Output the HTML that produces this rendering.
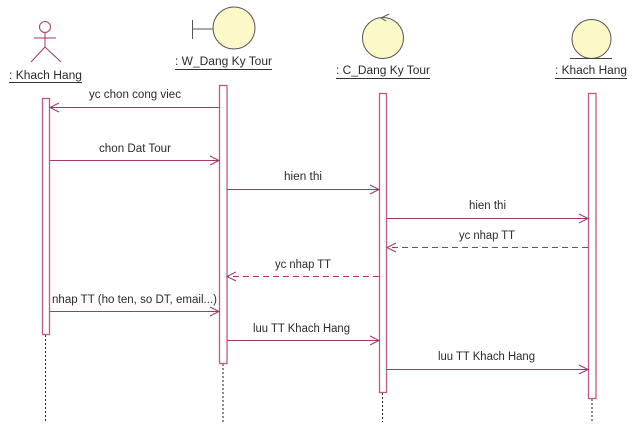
<!DOCTYPE html>
<html><head><meta charset="utf-8"><style>
html,body{margin:0;padding:0;background:#fff;}
svg{display:block;}
text{font-family:"Liberation Sans",Arial,sans-serif;font-size:11.5px;fill:#2a2a2a;}
</style></head><body>
<svg width="637" height="439" viewBox="0 0 637 439" xmlns="http://www.w3.org/2000/svg">
<rect width="637" height="439" fill="#fff"/>
<!-- Actor -->
<g stroke="#a4386a" stroke-width="1" fill="none">
<circle cx="45" cy="27" r="5.5"/>
<line x1="45" y1="32.5" x2="45" y2="47"/>
<line x1="34" y1="38" x2="56" y2="38"/>
<line x1="45" y1="47" x2="31" y2="62"/>
<line x1="45" y1="47" x2="61" y2="62"/>
</g>
<text x="9" y="79" textLength="73" lengthAdjust="spacingAndGlyphs" xml:space="preserve">: Khach Hang</text>
<line x1="9" y1="82.5" x2="82" y2="82.5" stroke="#333" stroke-width="1"/>
<!-- Boundary -->
<g stroke="#555" stroke-width="1">
<line x1="192.5" y1="20" x2="192.5" y2="39"/>
<line x1="192.5" y1="29" x2="213" y2="29"/>
<circle cx="234" cy="28" r="21" fill="#fcf9c8"/>
</g>
<text x="175" y="65" textLength="97" lengthAdjust="spacingAndGlyphs" xml:space="preserve">: W_Dang Ky Tour</text>
<line x1="175" y1="69.5" x2="272" y2="69.5" stroke="#333" stroke-width="1"/>
<!-- Control -->
<circle cx="383" cy="38" r="20.5" fill="#fcf9c8" stroke="#555" stroke-width="1"/>
<g stroke="#555" stroke-width="1" fill="none">
<line x1="381" y1="18" x2="389" y2="14"/>
<line x1="381" y1="18" x2="386" y2="21"/>
</g>
<text x="336" y="74" textLength="94" lengthAdjust="spacingAndGlyphs" xml:space="preserve">: C_Dang Ky Tour</text>
<line x1="336" y1="78.5" x2="430" y2="78.5" stroke="#333" stroke-width="1"/>
<!-- Entity -->
<circle cx="591.5" cy="39" r="19.5" fill="#fcf9c8" stroke="#555" stroke-width="1"/>
<line x1="570" y1="58.5" x2="612" y2="58.5" stroke="#444" stroke-width="1"/>
<text x="555" y="74" textLength="72" lengthAdjust="spacingAndGlyphs" xml:space="preserve">: Khach Hang</text>
<line x1="555" y1="78.5" x2="627" y2="78.5" stroke="#333" stroke-width="1"/>

<!-- Lifelines -->
<g stroke="#222" stroke-width="1" stroke-dasharray="2,2">
<line x1="45.5" y1="335" x2="45.5" y2="422"/>
<line x1="223" y1="364" x2="223" y2="423"/>
<line x1="382.5" y1="393" x2="382.5" y2="422"/>
<line x1="592" y1="399" x2="592" y2="422"/>
</g>
<!-- Activations -->
<g stroke="#bf5a86" stroke-width="1.3" fill="#fff">
<rect x="42.5" y="98.5" width="7" height="236"/>
<rect x="219.5" y="85.5" width="7.5" height="278"/>
<rect x="379.5" y="93.5" width="7" height="299"/>
<rect x="588.5" y="93.5" width="7.5" height="305"/>
</g>

<!-- Messages -->
<g stroke="#a4386a" stroke-width="1" fill="none">
<line x1="219" y1="107.5" x2="50" y2="107.5"/>
<polyline points="59,103 50,107.5 59,112"/>
<line x1="50" y1="160.5" x2="219" y2="160.5"/>
<polyline points="210,156 219,160.5 210,165"/>
<line x1="227" y1="189.5" x2="379" y2="189.5"/>
<polyline points="370,185 379,189.5 370,194"/>
<line x1="387" y1="218.5" x2="588" y2="218.5"/>
<polyline points="579,214 588,218.5 579,223"/>
<line x1="588" y1="247.5" x2="387" y2="247.5" stroke-dasharray="6,4"/>
<polyline points="396,243 387,247.5 396,252"/>
<line x1="379" y1="276.5" x2="227" y2="276.5" stroke-dasharray="6,4"/>
<polyline points="236,272 227,276.5 236,281"/>
<line x1="50" y1="311.5" x2="219" y2="311.5"/>
<polyline points="210,307 219,311.5 210,316"/>
<line x1="227" y1="340.5" x2="379" y2="340.5"/>
<polyline points="370,336 379,340.5 370,345"/>
<line x1="387" y1="369.5" x2="588" y2="369.5"/>
<polyline points="579,365 588,369.5 579,374"/>
</g>

<!-- Message labels -->
<text x="89" y="98" textLength="92" lengthAdjust="spacingAndGlyphs">yc chon cong viec</text>
<text x="99" y="152" textLength="72" lengthAdjust="spacingAndGlyphs">chon Dat Tour</text>
<text x="284" y="180" textLength="38" lengthAdjust="spacingAndGlyphs">hien thi</text>
<text x="469" y="209" textLength="37" lengthAdjust="spacingAndGlyphs">hien thi</text>
<text x="459" y="239" textLength="56" lengthAdjust="spacingAndGlyphs">yc nhap TT</text>
<text x="275" y="268" textLength="56" lengthAdjust="spacingAndGlyphs">yc nhap TT</text>
<text x="52" y="303" textLength="165" lengthAdjust="spacingAndGlyphs">nhap TT (ho ten, so DT, email...)</text>
<text x="253" y="332" textLength="97" lengthAdjust="spacingAndGlyphs">luu TT Khach Hang</text>
<text x="438" y="360" textLength="97" lengthAdjust="spacingAndGlyphs">luu TT Khach Hang</text>
</svg>
</body></html>
